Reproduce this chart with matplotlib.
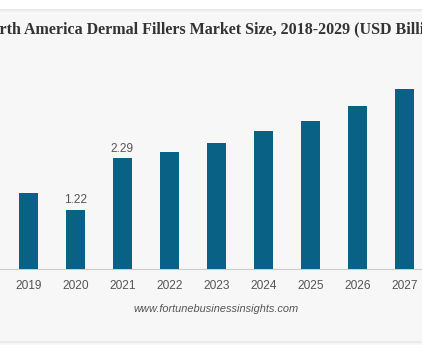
import matplotlib
matplotlib.use("Agg")
import matplotlib.pyplot as plt
from matplotlib.patches import Rectangle

years = ["2019", "2020", "2021", "2022", "2023", "2024", "2025", "2026", "2027"]
values = [1.56, 1.22, 2.29, 2.41, 2.61, 2.85, 3.06, 3.36, 3.71]
labeled = {"2020": "1.22", "2021": "2.29"}
title = "North America Dermal Fillers Market Size, 2018-2029 (USD Billion)"
source = "www.fortunebusinessinsights.com"

W, H = 422, 352
fig = plt.figure(figsize=(W / 100, H / 100), dpi=100, facecolor="white")

# panel background with soft shadow edges
def px_rect(y0, y1, color):
    fig.patches.append(Rectangle((0, 1 - y1 / H), 1, (y1 - y0) / H,
                                 transform=fig.transFigure, color=color, zorder=-10, lw=0))

px_rect(9, 342, "#f7f7f7")
for i, c in enumerate(["#e6e6e6", "#ececec", "#f2f2f2"]):
    px_rect(9 + i, 10 + i, c)
for i, c in enumerate(["#e9e9e9", "#eeeeee", "#f3f3f3", "#f8f8f8"]):
    px_rect(341 + i, 342 + i, c)

base_px, top_px = 269, 50
scale = 48.45  # px per unit
ax = fig.add_axes([0, (H - base_px) / H, 1, (base_px - top_px) / H])
ax.set_facecolor("none")
x = list(range(len(years)))
bars = ax.bar(x, values, width=0.405, color="#0a6186", zorder=3)
ax.set_xlim(-0.606, 8.372)
ax.set_ylim(0, (base_px - top_px) / scale)

for s in ["top", "left", "right"]:
    ax.spines[s].set_visible(False)
ax.spines["bottom"].set_color("#cccccc")
ax.spines["bottom"].set_linewidth(0.8)
ax.set_yticks([])
ax.set_xticks(x)
ax.set_xticklabels(years, family="Liberation Sans", fontsize=8.6, color="#555555")
ax.tick_params(axis="x", length=0, pad=8)

for xi, yr, v in zip(x, years, values):
    if yr in labeled:
        ax.annotate(labeled[yr], (xi, v), xytext=(0, 2.5), textcoords="offset points",
                    ha="center", va="bottom", family="Liberation Sans",
                    fontsize=8.6, color="#555555")

fig.text(-20 / W, 1 - 29 / H, title, ha="left", va="center",
         family="Liberation Serif", fontweight="bold", fontsize=11.53, color="#333333")
fig.text(216 / W, 1 - 309 / H, source, ha="center", va="center",
         family="Liberation Sans", style="italic", fontsize=7.9, color="#555555")

fig.savefig("out.png", dpi=100, facecolor="white")
